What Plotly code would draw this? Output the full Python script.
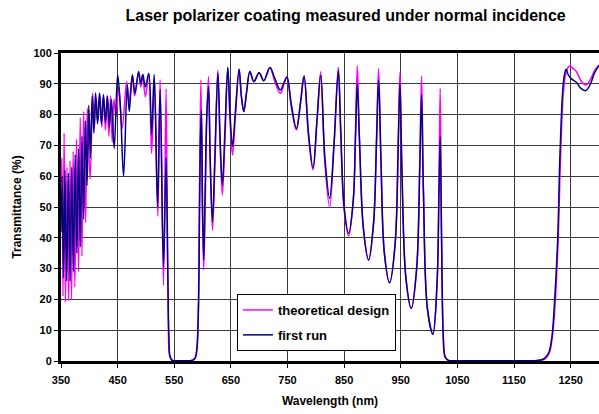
import plotly.graph_objects as go

design_wl = [350, 351.5, 353.5, 355.5, 357.8, 360.5, 363.5, 366, 368.5, 371.5, 374.5, 377.5, 381, 384, 387, 390, 393.5, 396.5,
             401.5, 406, 409, 412, 415, 418.5, 422, 425, 428.5, 431.5, 434.5, 437.5, 440.5, 443.5, 447, 452, 458, 466, 470,
             476, 480, 487, 491, 494, 499, 505, 510, 515, 521, 525, 531, 535.5, 537.5, 539.5, 541.5, 545, 560, 575, 583,
             587, 590, 592.5, 594.5, 597, 599.5, 602, 604.5, 607.5, 610.4, 613.5, 617.5, 621.5, 626.9, 631, 635, 639.5,
             644.5, 648.5, 652.8, 657.5, 664.5, 668.5, 672.8, 677.5, 683.5, 690.5, 699.8, 708, 719, 727, 737.4, 744, 749,
             757, 765.6, 773, 779.2, 787, 795, 802, 808.6, 816, 824.4, 832, 839.7, 844, 850, 857.9, 866, 870, 873.2, 877,
             884, 893.2, 902, 907, 910.8, 915, 921, 930.2, 940, 945.5, 948.5, 952, 959, 968.5, 978, 983.5, 986.7, 990, 997,
             1006.7, 1014, 1017.5, 1019.6, 1022, 1025, 1028, 1033, 1050, 1100, 1150, 1195, 1205, 1212, 1217, 1222, 1228,
             1232, 1237, 1241, 1246, 1249, 1254, 1260, 1268, 1277, 1285, 1293, 1300]
design_t = [58, 66, 21, 74, 19, 63, 19.5, 65, 20, 68, 24, 72, 29, 79, 34, 81, 45, 82,
            59, 87, 76, 85.5, 78, 86.5, 76, 86, 75, 86, 73, 86, 71, 85, 79, 89, 75.5, 90.7, 83.6,
            92.5, 86, 93.5, 89, 93, 85.8, 93, 67.4, 92, 47, 91.3, 24.6, 88.4, 50, 12, 2, 0.3, 0.1, 0.1, 0.3,
            1, 4, 17, 55, 91.3, 50, 29.6, 50, 80, 92.3, 65, 42.5, 62, 94.5, 70, 53.9, 72,
            95.3, 78, 66.9, 78, 94.7, 86, 81, 87, 94, 90.7, 93.6, 91, 95.3, 91, 86.9, 90, 92.3,
            82, 75, 84, 92.5, 73, 62, 78, 93.9, 64, 50, 70, 95.4, 73, 49, 40.6, 52, 75, 95.8, 72,
            43, 32.8, 45, 72, 95, 65, 35, 25.4, 38, 72, 93.7, 62, 27, 17.1, 30, 65, 92.5, 55, 17,
            8.7, 25, 60, 88.5, 40, 8, 1.5, 0.3, 0.1, 0.1, 0.1, 0.2, 0.7, 2.5, 7, 17, 40,
            66, 87, 93, 95.5, 95.8, 95, 94, 91, 89.6, 91.5, 94.5, 96]

run_wl = [350, 352, 354.5, 357, 360, 363, 366, 369, 372, 375, 378, 381, 384, 387, 390, 393, 396, 399, 402, 405, 408, 411,
          414.5, 418, 421.5, 425, 428.5, 432, 435.5, 439, 444, 450, 455, 460.5, 467, 470.5, 476, 480.5, 487, 491, 494.5,
          499, 505, 510, 514.5, 520.5, 525, 531, 535.5, 538.5, 540.5, 542.5, 546, 560, 575, 583, 587, 590, 592.5, 594.5,
          596, 598, 600, 602, 604.5, 607.5, 610.5, 613.5, 617.5, 621.5, 627, 631, 635, 639.5, 644.5, 648.5, 652.8, 657.5,
          664.5, 668.5, 672.8, 677.5, 683.5, 690.5, 699.8, 708, 719, 727, 737.4, 744, 749, 757, 765.6, 773, 779.2, 787,
          795, 802, 808.6, 816, 824.4, 832, 839.7, 844, 850, 857.9, 866, 870, 873.2, 877, 884, 893.2, 902, 907, 910.8,
          915, 921, 930.2, 940, 945.5, 948.5, 952, 959, 968.5, 978, 983.5, 986.7, 990, 997, 1006.7, 1014, 1017.5, 1019.6,
          1022, 1025, 1028, 1033, 1050, 1100, 1150, 1190, 1200, 1207, 1212, 1217, 1221, 1227, 1231, 1236, 1239, 1242,
          1246, 1252, 1260, 1268, 1277, 1285, 1292, 1300]
run_t = [42, 60, 27, 62, 26, 61, 26, 63, 29, 67, 35, 69, 37, 73, 46, 78, 57, 83, 66, 86, 74, 87,
         77, 87, 77, 86.5, 77.5, 86, 76, 85, 69, 93, 82, 60, 89.6, 81, 92.9, 86.9, 94, 90, 93,
         89, 93.4, 73.4, 93, 50, 88, 30.5, 66, 30, 8, 1.5, 0.3, 0.1, 0.1, 0.3, 1, 4, 15, 45,
         70, 81.5, 50, 32.9, 55, 80, 89, 65, 45.2, 65, 93.5, 72, 57.2, 75, 95.3, 80, 69.6, 80,
         94.7, 86, 81, 87, 94, 90.7, 93.6, 91, 95.3, 92, 88, 90.5, 92.2, 83, 75.5, 84, 92.5, 74,
         62.6, 78, 92.8, 66, 52.8, 70, 94.3, 75, 50, 41.5, 52, 72, 90.1, 72, 43, 32.8, 45, 70, 91.2,
         65, 35, 25.4, 38, 70, 90.1, 62, 27, 17.1, 30, 62, 86.4, 55, 17, 8.7, 25, 55, 72.8,
         40, 8, 1.5, 0.3, 0.1, 0.1, 0.1, 0.2, 0.5, 1.5, 3, 8, 17.6, 39.3, 66.4, 88, 93, 94.7,
         92.8, 91.5, 90.5, 88.5, 87.8, 90, 93.5, 96]

x_ticks = [350, 450, 550, 650, 750, 850, 950, 1050, 1150, 1250]
y_ticks = [0, 10, 20, 30, 40, 50, 60, 70, 80, 90, 100]

FONT = "Liberation Sans, Arial, sans-serif"

fig = go.Figure()
fig.add_trace(go.Scatter(x=design_wl, y=design_t, mode="lines", name="theoretical design",
                         legendgroup="a",
                         line=dict(color="#FF00FF", width=1.5, shape="spline", smoothing=1.0)))
fig.add_trace(go.Scatter(x=run_wl, y=run_t, mode="lines", name="first run",
                         legendgroup="b",
                         line=dict(color="#000080", width=1.5, shape="spline", smoothing=1.0)))

fig.update_layout(
    width=599, height=414,
    margin=dict(l=61, r=0, t=53, b=53),
    paper_bgcolor="white", plot_bgcolor="white",
    font=dict(family=FONT, color="black"),
    title=dict(text="<b>Laser polarizer coating measured under normal incidence</b>",
               font=dict(size=16, family=FONT, color="black"),
               x=0.577, xanchor="center", y=0.962, yanchor="middle"),
    legend=dict(x=0.327, y=0.2175, xanchor="left", yanchor="top",
                bgcolor="white", bordercolor="black", borderwidth=1,
                font=dict(size=13, family=FONT, color="black", weight="bold"),
                traceorder="grouped", tracegroupgap=5),
    showlegend=True,
)
fig.update_xaxes(range=[350, 1300], tickvals=x_ticks, ticktext=[str(v) for v in x_ticks],
                 showgrid=True, gridcolor="#3a3a3a", gridwidth=1,
                 showline=True, linecolor="black", linewidth=3, mirror=True,
                 ticks="outside", ticklen=4, tickcolor="black", ticklabelstandoff=3,
                 tickfont=dict(size=11, family=FONT, color="black", weight="bold"),
                 title=dict(text="<b>Wavelength (nm)</b>", font=dict(size=12, family=FONT, color="black"),
                            standoff=12),
                 zeroline=False)
fig.update_yaxes(range=[0, 100], tickvals=y_ticks,
                 showgrid=True, gridcolor="#3a3a3a", gridwidth=1,
                 showline=True, linecolor="black", linewidth=3, mirror=False,
                 ticks="outside", ticklen=4, tickcolor="black",
                 tickfont=dict(size=11, family=FONT, color="black", weight="bold"),
                 title=dict(text="<b>Transmittance (%)</b>", font=dict(size=12, family=FONT, color="black"),
                            standoff=10),
                 zeroline=False)

fig.write_html("out.html")
